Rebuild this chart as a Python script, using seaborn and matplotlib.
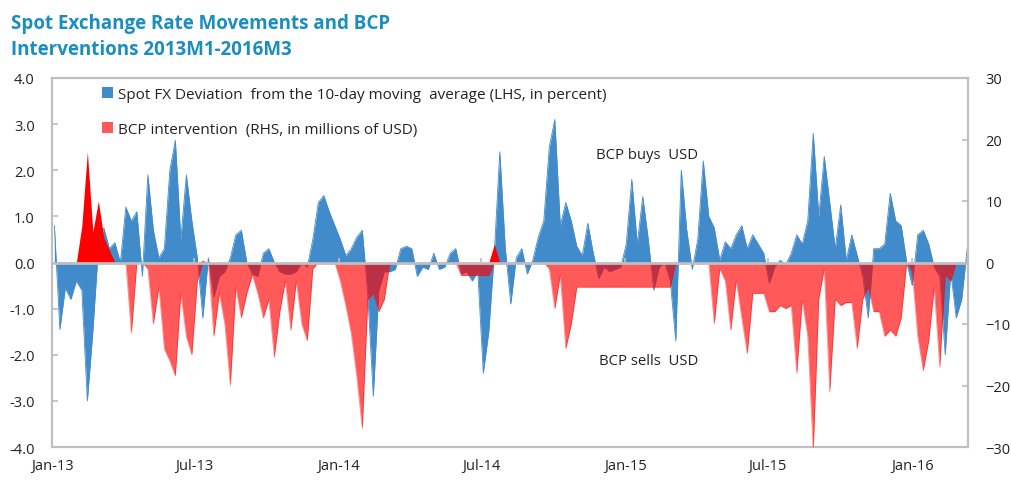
import numpy as np
import pandas as pd
import matplotlib
matplotlib.use("Agg")
import matplotlib.pyplot as plt
import matplotlib.dates as mdates
from matplotlib.patches import Patch
import seaborn as sns

# ---------------- data (weekly readings) ----------------
start_date = "2013-01-04"
fx_dev = [0.8, -1.45, -0.55, -0.8, -0.4, -0.6, -3.0, -1.5, 0.3, 0.75,
          0.3, 0.43, 0.0, 1.2, 0.9, 1.1, -0.3, 1.9, 0.7, 0.1,
          0.3, 2.0, 2.65, 0.5, 1.9, 0.9, 0.1, -1.2, 0.1, -0.75,
          -0.3, -0.2, 0.1, 0.6, 0.7, 0.0, -0.25, -0.3, 0.2, 0.3,
          0.0, -0.2, -0.25, -0.25, -0.2, 0.0, -0.1, 0.5, 1.3, 1.45,
          1.1, 0.8, 0.5, 0.15, 0.3, 0.55, 0.7, -0.7, -2.9, -0.6,
          -0.2, -0.2, -0.15, 0.3, 0.35, 0.3, -0.3, -0.1, -0.15, 0.2,
          -0.15, -0.1, 0.2, 0.3, -0.25, -0.2, -0.4, -0.2, -2.4, -1.5,
          0.2, 2.4, 0.3, -0.9, 0.1, 0.3, -0.25, 0.05, 0.55, 0.9,
          2.5, 3.1, 0.8, 1.3, 0.9, 0.35, 0.15, 0.85, 0.2, -0.35,
          -0.1, -0.2, -0.15, -0.1, 0.4, 1.8, 0.4, 1.43, 0.5, -0.6,
          -0.1, 0.0, -0.4, -1.7, 2.0, 0.7, -0.15, 0.5, 2.2, 1.0,
          0.75, 0.05, 0.45, 0.3, 0.6, 0.8, 0.3, 0.6, 0.4, 0.2,
          -0.45, -0.1, 0.05, -0.05, 0.2, 0.6, 0.4, 0.9, 2.8, 1.0,
          2.3, 1.3, 0.3, 1.25, 0.05, 0.6, 0.15, -0.3, -1.2, 0.3,
          0.3, 0.4, 1.5, 0.9, 0.8, 0.0, -0.5, 0.6, 0.7, 0.4,
          -0.1, -0.3, -2.0, -0.2, -1.2, -0.8, 0.3]
bcp_int = [0, 0, 0, 0, 0, 6, 18, 5, 10, 4,
           2, 0, 0, 0, -11.5, 0, 0, -1, -10, -4,
           -14, -16, -18.4, -5, -12, -15, -3, 0.3, 0, -12,
           -5, -10, -20, -4, -9, -5, -2, -5, -9, -6,
           -15.4, -8, -3, -11, -3, -10, -12.7, -1, 0, 0,
           0, 0, -3, -7, -11.6, -18.6, -27, -6, -5, -8,
           -6, 0, 0, 0, 0, 0, 0, 0, 0, 0,
           0, 0, 0, 0, -2.1, -2.1, -2.1, -2.1, -2.1, -2.1,
           3, 0, 0, 0, 0, 0, 0, 0, 0, 0,
           -1, -7.5, -2.1, -14, -10, -4, -4, -4, -4, -4,
           -4, -4, -4, -4, -4, -4, -4, -4, -4, -4,
           -4, -4, -4, 0, 0, 0, 0, 0, 0, 0,
           -10, -1, -2.9, -11, -2.9, -9, -14.8, -5, -5, -5,
           -8, -8, -7, -7.5, -7, -18, -6.1, -12, -30.6, -6,
           -1, -21, -6, -7, -6.5, -6.5, -14, -6, -4, -8,
           -8, -12, -11, -12, -9, 0, -1.5, -12, -17.6, -12.7,
           -4, -17, -2, -3, 0, 0, 0]
legend_labels = ["Spot FX Deviation  from the 10-day moving  average (LHS, in percent)",
                 "BCP intervention  (RHS, in millions of USD)"]
title_text = "Spot Exchange Rate Movements and BCP\nInterventions 2013M1-2016M3"
annot_buy = "BCP buys  USD"
annot_sell = "BCP sells  USD"

dates = pd.date_range(start_date, periods=len(fx_dev), freq="7D")
df = pd.DataFrame({"date": dates, "fx": fx_dev, "bcp": bcp_int})

# ---------------- style ----------------
sns.set_theme(style="white")
plt.rcParams["font.family"] = ["Open Sans", "DejaVu Sans"]
BLUE = "#428BCA"
RED = "#FF0000"
GREY = "#BFBFBF"
TXT = "#222222"
TITLE_C = "#1B8EC0"

fig = plt.figure(figsize=(10.12, 4.81), dpi=100)
ax = fig.add_axes([52 / 1012, 1 - 448 / 481, 916 / 1012, 369 / 481])
ax2 = ax.twinx()

# blue area (LHS)
ax.fill_between(df["date"], df["fx"], 0, color=BLUE, lw=0, zorder=2)
sns.lineplot(data=df, x="date", y="fx", ax=ax, color=BLUE, lw=0.6, zorder=2)

# red area (RHS)
neg = np.minimum(df["bcp"].to_numpy(), 0)
pos = np.maximum(df["bcp"].to_numpy(), 0)
ax2.fill_between(df["date"], neg, 0, color=RED, alpha=0.65, lw=0, zorder=3)
ax2.fill_between(df["date"], pos, 0, color=RED, alpha=1.0, lw=0, zorder=3)
sns.lineplot(x=df["date"], y=neg, ax=ax2, color=RED, alpha=0.5, lw=0.5, zorder=3)
ax2.axhline(0, color=GREY, lw=2, zorder=5)

ax.set_ylim(-4, 4)
ax2.set_ylim(-30, 30)
ax.set_xlim(pd.Timestamp("2013-01-01"), pd.Timestamp("2016-03-12"))
ax.set_yticks(np.arange(-4, 4.01, 1))
ax.yaxis.set_major_formatter(matplotlib.ticker.FormatStrFormatter("%.1f"))
ax2.set_yticks(np.arange(-30, 31, 10))

ax.xaxis.set_major_locator(mdates.MonthLocator(bymonth=[1, 7]))
ax.xaxis.set_major_formatter(mdates.DateFormatter("%b-%y"))
tick_dates = pd.date_range("2013-07-01", "2016-01-01", freq="6MS")
ax.vlines(tick_dates, 0, 0.1, color=GREY, lw=1.2, zorder=6)

for a in (ax, ax2):
    a.set_xlabel("")
    a.set_ylabel("")
    for s in a.spines.values():
        s.set_color(GREY)
        s.set_linewidth(1.5)
    a.grid(False)

ax.tick_params(axis="y", direction="in", length=4, color=GREY, labelsize=10.5,
               labelcolor=TXT, pad=12.5, left=True, right=False)
ax2.tick_params(axis="y", direction="in", length=4, color=GREY, labelsize=10.5,
                labelcolor=TXT, pad=12.5, right=True)
ax.tick_params(axis="x", length=0, labelsize=10.5, labelcolor=TXT, pad=8)

# legend
handles = [Patch(facecolor=BLUE, edgecolor="none"), Patch(facecolor="#FF5A5A", edgecolor="none")]
fig.legend(handles, legend_labels, loc="upper left", bbox_to_anchor=(88 / 1012, 1 - 74 / 481),
           frameon=False, fontsize=11, handlelength=0.75, handleheight=0.75, handletextpad=0.3,
           labelspacing=1.3, labelcolor=TXT)

ax.text(pd.Timestamp("2015-01-28"), 2.35, annot_buy, ha="center", va="center",
        fontsize=10.7, color=TXT)
ax.text(pd.Timestamp("2015-01-31"), -2.13, annot_sell, ha="center", va="center",
        fontsize=10.7, color=TXT)

fig.text(11 / 1012, 1 - 14 / 481, title_text, ha="left", va="top", fontsize=13.5,
         fontweight="bold", color=TITLE_C, linespacing=1.4)

fig.savefig("out.png", dpi=100)
